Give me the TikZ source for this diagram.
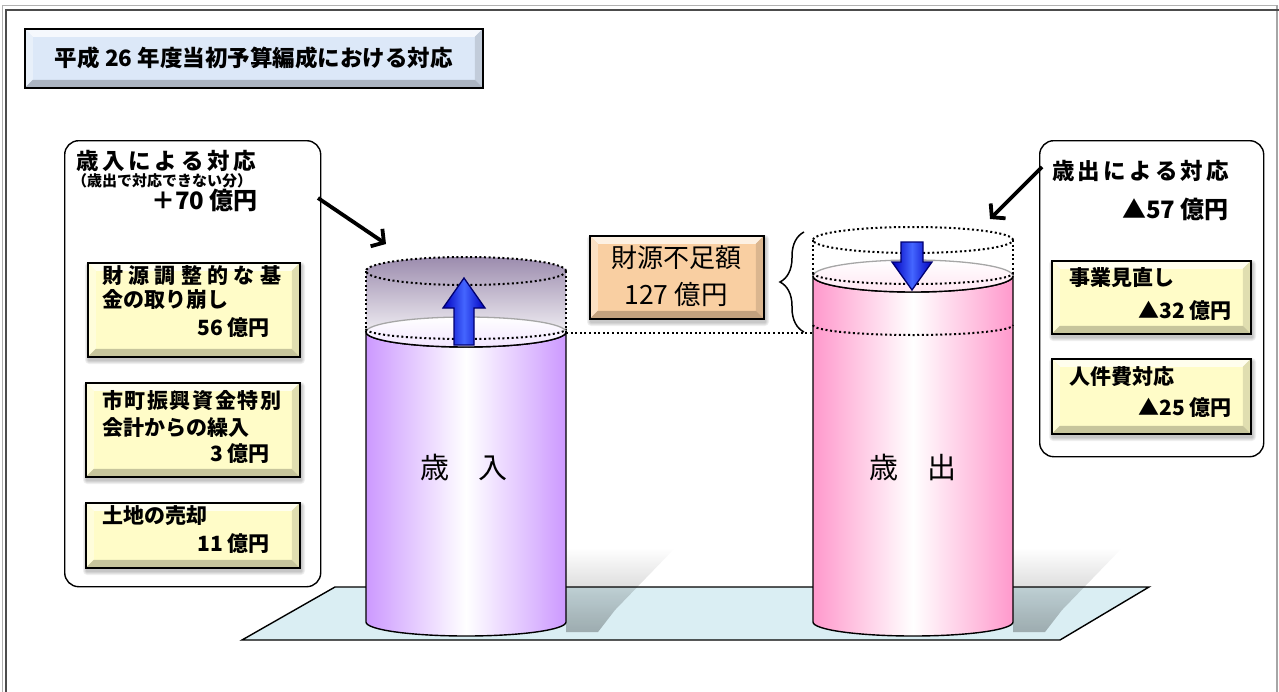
\documentclass[tikz,border=0pt]{standalone}
\usepackage{fontspec}
\setmainfont{Noto Sans CJK JP}
\usetikzlibrary{arrows.meta,decorations.pathreplacing,calc,fadings}
\definecolor{lav}{HTML}{CC99FF}
\definecolor{lavgray}{HTML}{9C8CAE}
\definecolor{pinkc}{HTML}{FF99CC}
\definecolor{floorc}{HTML}{DAEEF3}
\definecolor{titleblue}{HTML}{DCE8F8}
\definecolor{yel}{HTML}{FFFCC8}
\definecolor{org}{HTML}{F9CFA2}
\definecolor{navy}{HTML}{000070}
\definecolor{bluemid}{HTML}{4466FF}
\def\sprA#1{\ifx\relax#1\else#1\hfil\expandafter\sprA\fi}
\newcommand\spreadto[2]{\makebox[#1][s]{\sprA#2\relax\unskip}}
\newcommand\fs[1]{\fontsize{#1pt}{#1pt}\selectfont}
\newcommand\softshadow[4]{\foreach \k in {1,...,4}{\fill[black, opacity=0.06, rounded corners=\k pt] (#1+2-\k, #2+4-\k) rectangle (#3+2+\k, #4+4+\k);}}
\begin{document}
\begin{tikzpicture}[x=1pt,y=-1pt,
  lbl/.style={inner sep=0pt, font=\fs{21}\bfseries},
  container/.style={draw, line width=1.4pt, rounded corners=14pt, fill=white, inner sep=0pt, anchor=north west},
  dots/.style={line width=2pt, dash pattern=on 2pt off 2.6pt},
  blk/.style={line width=1.4pt},
  bigarrow/.style={line width=3.8pt, -{Straight Barb[length=9pt,width=21pt]}},
  bluearrow/.style={left color=blue!75!black, right color=blue!75!black, middle color=bluemid, draw=navy, line width=1.3pt, line join=miter},
  cylshadow/.style={fill=black, opacity=0.28, path fading=north},
  bevelbox/.style={draw=black, line width=1.6pt, fill=#1, inner sep=0pt, anchor=north west, path picture={
    \coordinate (pa) at (path picture bounding box.north west);
    \coordinate (pb) at (path picture bounding box.south east);
    \fill[#1!30!white] (pa) -- (pa-|pb) -- ([shift={(-8pt,-8pt)}]pa-|pb) -- ([shift={(8pt,-8pt)}]pa) -- cycle;
    \fill[#1!65!white] (pa) -- (pb-|pa) -- ([shift={(8pt,8pt)}]pb-|pa) -- ([shift={(8pt,-8pt)}]pa) -- cycle;
    \fill[#1!88!black] (pa-|pb) -- (pb) -- ([shift={(-8pt,8pt)}]pb) -- ([shift={(-8pt,-8pt)}]pa-|pb) -- cycle;
    \fill[#1!78!black] (pb) -- (pb-|pa) -- ([shift={(8pt,8pt)}]pb-|pa) -- ([shift={(-8pt,8pt)}]pb) -- cycle;
  }},
]
\useasboundingbox (0,0) rectangle (1279,691);
% frame
\draw[gray!60, line width=1pt] (2,695) -- (2,5) -- (1276.5,5);
\draw[gray!70, line width=2pt] (1276.5,5) -- (1276.5,695);
\draw[black!70, line width=2pt] (6,695) -- (6,10) -- (1279,10);

% title
\node[bevelbox=titleblue, minimum width=458pt, minimum height=59pt, font=\fs{22.5}\bfseries] (title) at (24,28) {平成 26 年度当初予算編成における対応};

% containers
\node[container, minimum width=256pt, minimum height=446pt] (lbox) at (64,140) {};
\node[container, minimum width=224pt, minimum height=316pt] (rbox) at (1039,140) {};

% left container texts
\node[lbl, anchor=west, font=\fs{22.5}\bfseries] (lh) at (76,161) {\spreadto{180pt}{歳入による対応}};
\node[lbl, anchor=west, font=\fs{15}\bfseries] (lsub) at (72,181) {（歳出で対応できない分）};
\node[lbl, anchor=east, font=\fs{24}\bfseries] (lamt) at (258,200) {＋70 億円};

% yellow boxes left
\softshadow{87}{262}{299}{356}
\softshadow{85}{382}{299}{476}
\softshadow{85}{502}{299}{567}
\node[bevelbox=yel, minimum width=212pt, minimum height=94pt] (y1) at (87,262) {};
\node[bevelbox=yel, minimum width=214pt, minimum height=94pt] (y2) at (85,382) {};
\node[bevelbox=yel, minimum width=214pt, minimum height=65pt] (y3) at (85,502) {};
\node[lbl, anchor=west] (y1a) at (102,276) {\spreadto{179pt}{財源調整的な基}};
\node[lbl, anchor=west] (y1b) at (102,300) {金の取り崩し};
\node[lbl, anchor=east] (y1c) at (270,328) {56 億円};
\node[lbl, anchor=west] (y2a) at (102,401) {\spreadto{179pt}{市町振興資金特別}};
\node[lbl, anchor=west] (y2b) at (102,428) {会計からの繰入};
\node[lbl, anchor=east] (y2c) at (270,454) {3 億円};
\node[lbl, anchor=west] (y3a) at (102,516) {土地の売却};
\node[lbl, anchor=east] (y3b) at (270,544) {11 億円};

% right container texts
\node[lbl, anchor=west, font=\fs{22.5}\bfseries] (rh) at (1052,171) {\spreadto{177pt}{歳出による対応}};
\node[lbl, anchor=east, font=\fs{24}\bfseries] (ramt) at (1229,209) {▲57 億円};
\softshadow{1051}{260}{1250}{333}
\softshadow{1051}{358}{1250}{433}
\node[bevelbox=yel, minimum width=199pt, minimum height=73pt] (r1) at (1051,260) {};
\node[bevelbox=yel, minimum width=199pt, minimum height=75pt] (r2) at (1051,358) {};
\node[lbl, anchor=west] (r1a) at (1069,278) {事業見直し};
\node[lbl, anchor=east] (r1b) at (1232,311) {▲32 億円};
\node[lbl, anchor=west] (r2a) at (1069,377) {人件費対応};
\node[lbl, anchor=east] (r2b) at (1232,408) {▲25 億円};

% floor
\filldraw[fill=floorc, blk] (335,587) -- (1149,587) -- (1060,640) -- (242,640) -- cycle;
% cylinder shadows
\fill[cylshadow] (566,548) -- (675,548) -- (615,610) -- (598,632) -- (566,632) -- cycle;
\fill[cylshadow] (1013,548) -- (1122,548) -- (1062,610) -- (1045,632) -- (1013,632) -- cycle;

% ---- left cylinder (revenue)
\shade[top color=lavgray, bottom color=white] (366,271) arc[start angle=180,end angle=0,x radius=100pt,y radius=14pt] -- (566,332) arc[start angle=0,end angle=-180,x radius=100pt,y radius=15pt] -- cycle;
\shadedraw[left color=lav, right color=lav, middle color=white, blk] (366,332) -- (366,622) arc[start angle=180,end angle=360,x radius=100pt,y radius=14pt] -- (566,332) arc[start angle=0,end angle=-180,x radius=100pt,y radius=15pt] -- cycle;
\shade[top color=white, bottom color=lav!25] (466,332) ellipse[x radius=100pt, y radius=15pt];
\draw[gray!70, line width=1.3pt] (366,332) arc[start angle=180,end angle=0,x radius=100pt,y radius=15pt];
\draw[blk] (366,332) arc[start angle=180,end angle=360,x radius=100pt,y radius=15pt];
\draw[dots] (366,329) arc[start angle=180,end angle=360,x radius=100pt,y radius=10pt];
\draw[dots] (466,271) ellipse[x radius=100pt, y radius=14pt];
\draw[dots] (366,271) -- (366,332);
\draw[dots] (566,271) -- (566,332);
\shadedraw[bluearrow] (454,345) -- (454,308) -- (443,308) -- (464,278) -- (485,308) -- (474,308) -- (474,345) -- cycle;
\node[inner sep=0pt, font=\fs{29}] (inlbl) at (464,468) {歳　入};

% ---- right cylinder (expenditure)
\draw[dots] (913,240) ellipse[x radius=100pt, y radius=13pt];
\draw[dots] (813,240) -- (813,276);
\draw[dots] (1013,240) -- (1013,276);
\shadedraw[left color=pinkc, right color=pinkc, middle color=white, blk] (813,276) -- (813,622) arc[start angle=180,end angle=360,x radius=100pt,y radius=14pt] -- (1013,276) arc[start angle=0,end angle=-180,x radius=100pt,y radius=16pt] -- cycle;
\shade[top color=white, bottom color=pinkc!25] (913,276) ellipse[x radius=100pt, y radius=16pt];
\draw[gray!70, line width=1.3pt] (813,276) arc[start angle=180,end angle=0,x radius=100pt,y radius=16pt];
\draw[blk] (813,276) arc[start angle=180,end angle=360,x radius=100pt,y radius=16pt];
\draw[dots] (813,273) arc[start angle=180,end angle=360,x radius=100pt,y radius=11pt];
\draw[dots] (813,325) arc[start angle=180,end angle=360,x radius=100pt,y radius=10pt];
\shadedraw[bluearrow] (901,242) -- (923,242) -- (923,262) -- (932,262) -- (912,290) -- (892,262) -- (901,262) -- cycle;
\node[inner sep=0pt, font=\fs{29}] (outlbl) at (913,468) {歳　出};

% gap indicator
\coordinate (dl1) at (566,333);
\coordinate (dl2) at (813,333);
\draw[dots] (dl1) -- (dl2);
\coordinate (br1) at (804,332);
\coordinate (br2) at (804,232);
\draw[line width=1.5pt, decorate, decoration={brace, amplitude=24pt}] (br1) -- (br2);
\softshadow{589}{235}{763}{318}
\node[bevelbox=org, minimum width=174pt, minimum height=83pt] (gap) at (589,235) {};
\node[inner sep=0pt, font=\fs{26}] (gapa) at (676,258) {財源不足額};
\node[inner sep=0pt, font=\fs{26.5}] (gapb) at (676,294) {127 億円};

% pointer arrows
\coordinate (a1s) at (318,198);
\coordinate (a1e) at (386,244);
\coordinate (a2s) at (1042,167);
\coordinate (a2e) at (990,219);
\draw[bigarrow] (a1s) -- (a1e);
\draw[bigarrow] (a2s) -- (a2e);
\end{tikzpicture}
\end{document}
